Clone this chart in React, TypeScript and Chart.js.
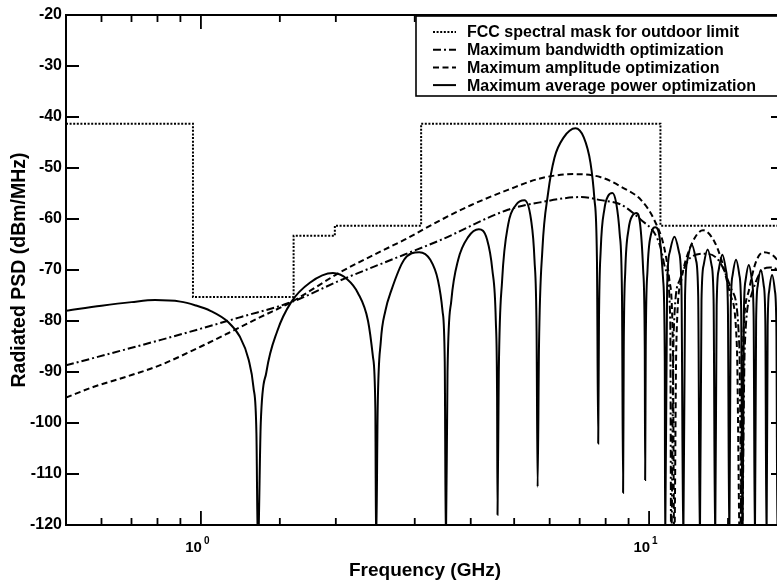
import React, { useEffect, useRef } from 'react';
import { Chart, registerables } from 'chart.js';
Chart.register(...registerables);

// ---- data (GHz, dBm/MHz) ----
const maskFreq = [0.5, 0.96, 1.61, 1.99, 3.1, 10.6, 20];
const maskPsd = [-41.3, -75.3, -63.3, -61.3, -41.3, -61.3, -61.3];

const bandwidthFreq = [0.5, 0.814, 1.0, 1.23, 1.59, 2.05, 2.84, 3.43, 4.84, 5.74, 7.05, 7.8, 8.67, 9.6, 10.27, 10.6, 10.9, 11.15, 11.2, 11.35, 11.7, 12.4, 13.4, 14.4, 15.3, 15.9, 16.1, 16.35, 16.9, 17.7, 18.6, 19.4, 20];
const bandwidthPsd = [-88.7, -83.7, -81.5, -79.2, -76.3, -72, -67, -64.1, -58.2, -56.7, -55.7, -56.3, -57.2, -60.2, -62.7, -65.5, -70, -80, -125, -82, -72, -67.5, -66.8, -68.5, -74, -85, -125, -85, -75, -70.5, -69.5, -70, -71.5];

const amplitudeFreq = [0.5, 0.577, 0.7, 0.814, 1.0, 1.15, 1.36, 1.59, 2.05, 2.5, 2.84, 3.43, 4.0, 4.84, 5.74, 6.8, 7.8, 8.67, 9.6, 10.27, 10.8, 11.1, 11.3, 11.38, 11.5, 11.8, 12.3, 13.2, 14.0, 14.5, 15.2, 15.7, 15.95, 16.2, 16.7, 17.3, 18.0, 18.8, 19.3, 20];
const amplitudePsd = [-95, -92.9, -90.6, -88.6, -85, -82.4, -79.2, -76.3, -70.4, -66.5, -64.1, -60.2, -57.3, -54.3, -52, -51.2, -51.8, -53.7, -56.3, -60.2, -65.5, -72, -85, -125, -85, -72, -66, -62.2, -64.5, -68, -75, -85, -125, -85, -74, -68.5, -66.5, -67, -68, -70];

const powerFreq = [
  0.5, 0.6, 0.7, 0.79, 0.9, 0.97, 1.05, 1.15, 1.22, 1.278, 1.31, 1.33, 1.34,
  1.36, 1.40, 1.48, 1.59, 1.75, 1.97, 2.12, 2.24, 2.36, 2.42, 2.45, 2.46,
  2.48, 2.52, 2.58, 2.66, 2.84, 3.07, 3.25, 3.38, 3.46, 3.50, 3.52,
  3.55, 3.62, 3.75, 3.95, 4.17, 4.35, 4.47, 4.55, 4.58, 4.59,
  4.62, 4.70, 4.85, 5.05, 5.27, 5.45, 5.55, 5.61, 5.64,
  5.68, 5.78, 5.95, 6.15, 6.45, 6.85, 7.15, 7.40, 7.55, 7.65, 7.70,
  7.73, 7.80, 7.95, 8.10, 8.28, 8.45, 8.60, 8.70, 8.75,
  8.78, 8.85, 9.0, 9.2, 9.36, 9.55, 9.70, 9.78, 9.80,
  9.83, 9.92, 10.1, 10.33, 10.55, 10.75, 10.84, 10.86,
  10.97, 11.12, 11.39, 11.66, 11.81, 11.92,
  12.03, 12.18, 12.45, 12.72, 12.87, 12.98,
  13.09, 13.24, 13.51, 13.78, 13.93, 14.04,
  14.15, 14.30, 14.57, 14.84, 14.99, 15.10,
  15.21, 15.36, 15.63, 15.90, 16.05, 16.16,
  16.27, 16.42, 16.69, 16.96, 17.11, 17.22,
  17.33, 17.48, 17.75, 18.02, 18.17, 18.28,
  18.39, 18.54, 18.81, 19.08, 19.23, 19.34,
  19.45, 19.60, 19.87, 20,
];
const powerPsd = [
  -78.0, -77.0, -76.3, -75.9, -76.2, -76.9, -78.0, -80.2, -83.0, -87.6, -93.0, -102, -125,
  -100, -90, -82, -76.3, -72.5, -70.6, -71.8, -74.5, -80, -87, -97, -125,
  -97, -84, -78, -74, -68, -66.5, -68, -72, -78, -88, -125,
  -90, -76, -68, -63.5, -62, -64, -70, -80, -95, -118,
  -90, -72, -61, -57.2, -56.3, -60, -68, -82, -112.5,
  -85, -66, -55, -48, -44, -42.2, -44, -49, -56, -68, -104,
  -80, -66, -58, -55.5, -54.9, -57, -63, -75, -113.7,
  -85, -70, -62, -59.2, -58.8, -61, -70, -85, -111.2,
  -85, -70, -63, -61.6, -63.5, -72, -88, -125,
  -73.5, -66.5, -63.5, -66.5, -73.5, -125,
  -75, -68, -65, -68, -75, -125,
  -76, -69, -66, -69, -76, -125,
  -77, -70, -67, -70, -77, -125,
  -78, -71, -68, -71, -78, -125,
  -79, -72, -69, -72, -79, -125,
  -80, -73, -70, -73, -80, -125,
  -81, -74, -71, -74, -81, -125,
  -82, -75, -72, -72.5,
];

const seriesLabels = [
  'FCC spectral mask for outdoor limit',
  'Maximum bandwidth optimization',
  'Maximum amplitude optimization',
  'Maximum average power optimization',
];
const yTickStep = 10;
const xLabelValues = [1, 10];
const xLabelExponents = ['0', '1'];

const FONT = '"Liberation Sans", Arial, Helvetica, sans-serif';

const toPoints = (xs: number[], ys: number[]) => xs.map((x, i) => ({ x, y: ys[i] }));

const dashes: number[][] = [[2, 1.6], [8, 3, 2, 3], [6, 3.5], []];

const decorPlugin = {
  id: 'decor',
  afterDraw(chart: any) {
    const ctx = chart.ctx;
    const { left, right, top, bottom } = chart.chartArea;
    const xs = chart.scales.x;
    const ys = chart.scales.y;
    ctx.save();
    ctx.strokeStyle = '#000';
    ctx.lineWidth = 2;
    ctx.setLineDash([]);
    ctx.strokeRect(left, top, right - left, bottom - top);
    // x ticks (inward)
    ctx.lineWidth = 1.8;
    xs.ticks.forEach((t: any) => {
      const v = t.value;
      const px = xs.getPixelForValue(v);
      if (px < left + 1 || px > right - 1) return;
      const lg = Math.log10(v);
      const major = Math.abs(lg - Math.round(lg)) < 1e-6;
      const len = major ? 14 : 7;
      ctx.beginPath();
      ctx.moveTo(px, bottom);
      ctx.lineTo(px, bottom - len);
      ctx.moveTo(px, top);
      ctx.lineTo(px, top + len);
      ctx.stroke();
    });
    // y ticks (inward)
    ys.ticks.forEach((t: any) => {
      const py = ys.getPixelForValue(t.value);
      ctx.beginPath();
      ctx.moveTo(left, py);
      ctx.lineTo(left + 13, py);
      ctx.moveTo(right, py);
      ctx.lineTo(right - 13, py);
      ctx.stroke();
    });
    // x tick labels with superscript exponent
    ctx.fillStyle = '#000';
    xLabelValues.forEach((v, i) => {
      const px = xs.getPixelForValue(v);
      ctx.font = `bold 15px ${FONT}`;
      ctx.textAlign = 'right';
      ctx.textBaseline = 'alphabetic';
      ctx.fillText('10', px + 1, bottom + 27);
      ctx.font = `bold 10px ${FONT}`;
      ctx.textAlign = 'left';
      ctx.fillText(xLabelExponents[i], px + 3, bottom + 19);
    });
    // legend
    const lx = 416;
    const ly = 16;
    const lw = right - lx;
    const lh = 80;
    ctx.fillStyle = '#fff';
    ctx.fillRect(lx, ly, lw, lh);
    ctx.lineWidth = 1.6;
    ctx.strokeStyle = '#000';
    ctx.strokeRect(lx, ly, lw, lh);
    chart.data.datasets.forEach((ds: any, i: number) => {
      const cy = 32 + i * 17.7;
      ctx.lineWidth = 2;
      ctx.setLineDash(ds.borderDash || []);
      ctx.beginPath();
      ctx.moveTo(433, cy);
      ctx.lineTo(456, cy);
      ctx.stroke();
      ctx.setLineDash([]);
      ctx.fillStyle = '#000';
      ctx.font = `bold 16px ${FONT}`;
      ctx.textAlign = 'left';
      ctx.textBaseline = 'middle';
      ctx.fillText(ds.label, 467, cy + 1);
    });
    ctx.restore();
  },
};

export default function App() {
  const ref = useRef<HTMLCanvasElement>(null);
  useEffect(() => {
    if (!ref.current) return;
    const common = { pointRadius: 0, borderColor: '#000', fill: false, borderWidth: 2 };
    const chart = new Chart(ref.current, {
      type: 'line',
      data: {
        datasets: [
          { ...common, label: seriesLabels[0], data: toPoints(maskFreq, maskPsd), stepped: 'before', borderDash: dashes[0], borderWidth: 2 },
          { ...common, label: seriesLabels[1], data: toPoints(bandwidthFreq, bandwidthPsd), borderDash: dashes[1], cubicInterpolationMode: 'monotone' },
          { ...common, label: seriesLabels[2], data: toPoints(amplitudeFreq, amplitudePsd), borderDash: dashes[2], cubicInterpolationMode: 'monotone' },
          { ...common, label: seriesLabels[3], data: toPoints(powerFreq, powerPsd), borderDash: dashes[3], cubicInterpolationMode: 'monotone' },
        ],
      },
      options: {
        responsive: false,
        animation: false,
        devicePixelRatio: 1,
        layout: { padding: { left: 0, right: 6, top: 15, bottom: 0 } },
        plugins: { legend: { display: false }, tooltip: { enabled: false } },
        scales: {
          x: {
            type: 'logarithmic',
            min: 0.5,
            max: 20,
            grid: { display: false, drawTicks: false },
            border: { display: false },
            ticks: { display: false },
            title: {
              display: true,
              text: 'Frequency (GHz)',
              color: '#000',
              font: { family: FONT, size: 19, weight: 'bold' },
              padding: { top: 2, bottom: 2 },
            },
            afterFit: (s: any) => { s.height = 59; },
          },
          y: {
            min: -120,
            max: -20,
            grid: { display: false, drawTicks: false },
            border: { display: false },
            ticks: {
              stepSize: yTickStep,
              color: '#000',
              padding: 4,
              font: { family: FONT, size: 16, weight: 'bold' },
            },
            title: {
              display: true,
              text: 'Radiated PSD (dBm/MHz)',
              color: '#000',
              font: { family: FONT, size: 19.5, weight: 'bold' },
              padding: { top: 8, bottom: 8 },
            },
            afterFit: (s: any) => { s.width = 66; },
          },
        },
      } as any,
      plugins: [decorPlugin],
    });
    return () => chart.destroy();
  }, []);
  return (
    <div style={{ position: 'fixed', left: 0, top: 0, width: 777, height: 584, overflow: 'hidden', background: '#fff' }}>
      <canvas ref={ref} width={790} height={584} style={{ width: 790, height: 584, display: 'block' }} />
    </div>
  );
}
